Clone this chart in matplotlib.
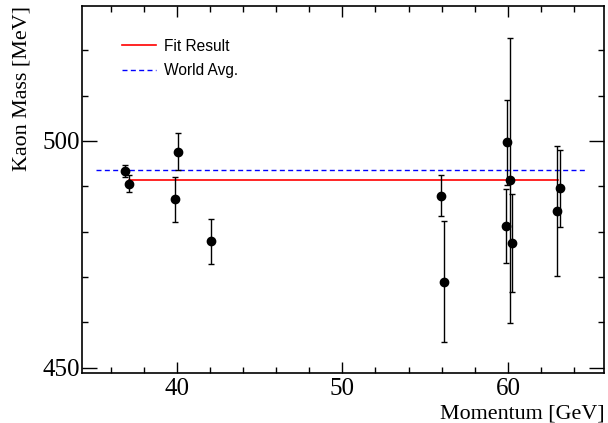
import matplotlib.pyplot as plt
from matplotlib.ticker import MultipleLocator

# measurements: momentum [GeV], kaon mass [MeV], error [MeV]
momentum = [36.88, 37.10, 39.90, 40.10, 42.08, 55.96, 56.14,
            59.87, 59.97, 60.15, 60.27, 62.96, 63.16]
mass = [493.4, 490.6, 487.1, 497.6, 477.9, 487.9, 469.0,
        481.3, 499.7, 491.3, 477.6, 484.6, 489.6]
mass_err = [1.4, 1.95, 5.0, 4.1, 5.0, 4.5, 13.3,
            8.2, 9.4, 31.5, 10.8, 14.3, 8.5]

fit_value = 491.33
fit_range = [37.1, 63.0]
world_avg = 493.677
world_range = [35.1, 64.8]

serif = "Liberation Serif"
sans = "Liberation Sans"

fig = plt.figure(
    figsize=(6.08, 4.23),
    dpi=100,
)

ax = fig.add_axes([0.135, 0.119, 0.858, 0.866])

ax.errorbar(
    momentum,
    mass,
    yerr=mass_err,
    fmt="o",
    color="black",
    ms=6,
    elinewidth=1,
    capsize=2,
    capthick=1,
    zorder=3,
)

ax.plot(
    fit_range,
    [fit_value, fit_value],
    color="red",
    lw=1.2,
    label="Fit Result",
)

ax.plot(
    world_range,
    [world_avg, world_avg],
    color="blue",
    lw=1,
    dashes=(3.6, 2.4),
    label="World Avg.",
)

ax.set_xlim(34.28, 65.79)
ax.set_ylim(448.9, 529.7)

ax.xaxis.set_major_locator(MultipleLocator(10))
ax.xaxis.set_minor_locator(MultipleLocator(2))
ax.yaxis.set_major_locator(MultipleLocator(50))
ax.yaxis.set_minor_locator(MultipleLocator(10))

ax.tick_params(
    axis="x",
    which="major",
    direction="in",
    length=7.9,
    width=1,
    top=True,
    pad=4,
)
ax.tick_params(
    axis="x",
    which="minor",
    direction="in",
    length=4.3,
    width=1,
    top=True,
)
ax.tick_params(
    axis="y",
    which="major",
    direction="in",
    length=10.8,
    width=1,
    right=True,
    pad=1.5,
)
ax.tick_params(
    axis="y",
    which="minor",
    direction="in",
    length=4.3,
    width=1,
    right=True,
)

for label in ax.get_xticklabels() + ax.get_yticklabels():
    label.set_fontfamily(serif)
    label.set_fontsize(18)

for spine in ax.spines.values():
    spine.set_linewidth(1.2)

fig.text(
    0.995,
    0.021,
    "Momentum [GeV]",
    ha="right",
    va="center",
    fontsize=15.8,
    family=serif,
)

fig.text(
    0.036,
    0.985,
    "Kaon Mass [MeV]",
    ha="center",
    va="top",
    rotation=90,
    fontsize=15.8,
    family=serif,
)

ax.legend(
    loc="upper left",
    bbox_to_anchor=(0.2007, 0.908),
    bbox_transform=fig.transFigure,
    frameon=False,
    borderpad=0,
    borderaxespad=0,
    handlelength=2.2,
    handletextpad=0.5,
    labelspacing=0.6,
    prop={"family": sans, "size": 11.2},
)

plt.savefig(
    "out.png",
)
